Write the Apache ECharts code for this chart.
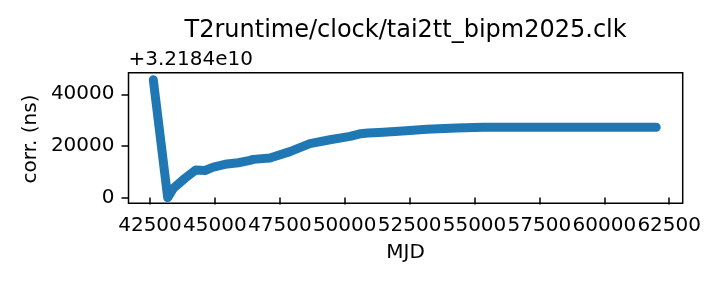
<!DOCTYPE html>
<html>
<head>
<meta charset="utf-8">
<script src="https://cdn.jsdelivr.net/npm/echarts@6/dist/echarts.min.js"></script>
<style>
html,body{margin:0;padding:0;background:#fff;}
#c{width:720px;height:288px;}
</style>
</head>
<body>
<div id="c"></div>
<script>
// Data (offsets from OFFSET_NS)
var OFFSET_NS = 3.2184e10;
var mjd = [42627, 43182, 43398, 43848, 44260, 44619, 44938, 45389, 45901, 46352, 46479, 47119, 47890, 48660, 49434, 50203, 50589, 50906, 51487, 52514, 53156, 54311, 55338, 58000, 62000];
var corrNs = [45600, 0, 3600, 7500, 10700, 10500, 11800, 12900, 13500, 14400, 14800, 15300, 17800, 20900, 22400, 23700, 24700, 25000, 25300, 26000, 26500, 26900, 27200, 27250, 27250];
var xTicks = [42500, 45000, 47500, 50000, 52500, 55000, 57500, 60000, 62500];
var yTicks = [0, 20000, 40000];
var titleText = 'T2runtime/clock/tai2tt_bipm2025.clk';
var xName = 'MJD';
var yName = 'corr. (ns)';
var offsetText = '+3.2184e10';

var seriesData = mjd.map(function (m, i) { return [m, corrNs[i]]; });

var FONT = 'DejaVu Sans';
var gridL = 128.5, gridR = 682.7, gridT = 72.7, gridB = 203.3;

var chart = echarts.init(document.getElementById('c'), null, {renderer: 'canvas'});
chart.setOption({
  animation: false,
  backgroundColor: '#ffffff',
  grid: {
    left: gridL, top: gridT, width: gridR - gridL, height: gridB - gridT,
    show: true, borderColor: '#000', borderWidth: 1.5, backgroundColor: 'transparent'
  },
  xAxis: {
    type: 'value', min: 41672, max: 63020,
    axisLine: {show: false},
    splitLine: {show: false},
    axisTick: {show: true, length: 7, customValues: xTicks, lineStyle: {color: '#000', width: 1.5}},
    axisLabel: {customValues: xTicks, margin: 12, color: '#000', fontFamily: FONT, fontSize: 20,
      formatter: function (v) { return String(v); }}
  },
  yAxis: {
    type: 'value', min: -2200, max: 48350,
    axisLine: {show: false},
    splitLine: {show: false},
    axisTick: {show: true, length: 7, customValues: yTicks, lineStyle: {color: '#000', width: 1.5}},
    axisLabel: {customValues: yTicks, margin: 14, color: '#000', fontFamily: FONT, fontSize: 20,
      formatter: function (v) { return String(v); }}
  },
  series: [{
    type: 'line',
    data: seriesData,
    showSymbol: false,
    symbol: 'none',
    lineStyle: {color: '#1f77b4', width: 9, cap: 'round', join: 'round'},
    z: 3
  }],
  graphic: [
    {type: 'text', x: (gridL + gridR) / 2, y: 31, style: {text: titleText, fontFamily: FONT, fontSize: 24, fill: '#000', align: 'center', verticalAlign: 'middle'}},
    {type: 'text', x: gridL, y: 60, style: {text: offsetText, fontFamily: FONT, fontSize: 20, fill: '#000', align: 'left', verticalAlign: 'middle'}},
    {type: 'text', x: (gridL + gridR) / 2, y: 253, style: {text: xName, fontFamily: FONT, fontSize: 20, fill: '#000', align: 'center', verticalAlign: 'middle'}},
    {type: 'text', x: 31, y: 139, rotation: Math.PI / 2, style: {text: yName, fontFamily: FONT, fontSize: 20, fill: '#000', align: 'center', verticalAlign: 'middle'}}
  ]
});
</script>
</body>
</html>
